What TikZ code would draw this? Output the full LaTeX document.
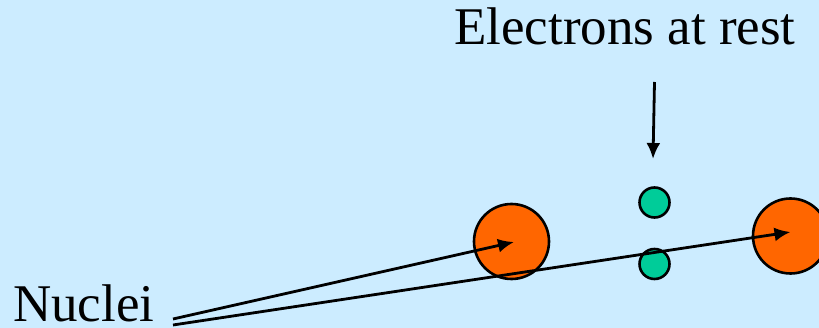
\documentclass[tikz,border=0pt]{standalone}
\usepackage{fontspec}
\setmainfont{Liberation Serif}
\usetikzlibrary{arrows.meta}
\definecolor{bgblue}{RGB}{204,236,255}
\definecolor{nucorange}{RGB}{255,102,0}
\definecolor{elgreen}{RGB}{0,204,153}
\begin{document}
\begin{tikzpicture}[x=1pt,y=-1pt,
  nucleus/.style={circle,draw=black,line width=2.6pt,fill=nucorange,minimum size=75pt,inner sep=0pt},
  electron/.style={circle,draw=black,line width=2.6pt,fill=elgreen,minimum size=30pt,inner sep=0pt},
  arr/.style={line width=2.8pt,-{Latex[length=16pt,width=14pt]}},
  lbl/.style={font=\fontsize{53}{60}\selectfont,inner sep=0pt,anchor=base west}]
\useasboundingbox (0,0) rectangle (819,328);
\fill[bgblue] (0,0) rectangle (819,328);
\node[nucleus] (nucL) at (511.5,241.5) {};
\node[nucleus] (nucR) at (790.5,236) {};
\node[electron] (e1) at (654.5,202.5) {};
\node[electron] (e2) at (654.5,264) {};
\node[lbl] (etext) at (454,45) {Electrons at rest};
\node[lbl] (ntext) at (13,322) {Nuclei};
\coordinate (eA) at (654.5,82);
\coordinate (eB) at (653,159);
\coordinate (n1) at (173,319);
\coordinate (n2) at (173,325);
\coordinate (tL) at (514,242);
\coordinate (tR) at (790.5,232);
\draw[arr] (eA) -- (eB);
\draw[arr] (n1) -- (tL);
\draw[arr] (n2) -- (tR);
\end{tikzpicture}
\end{document}
